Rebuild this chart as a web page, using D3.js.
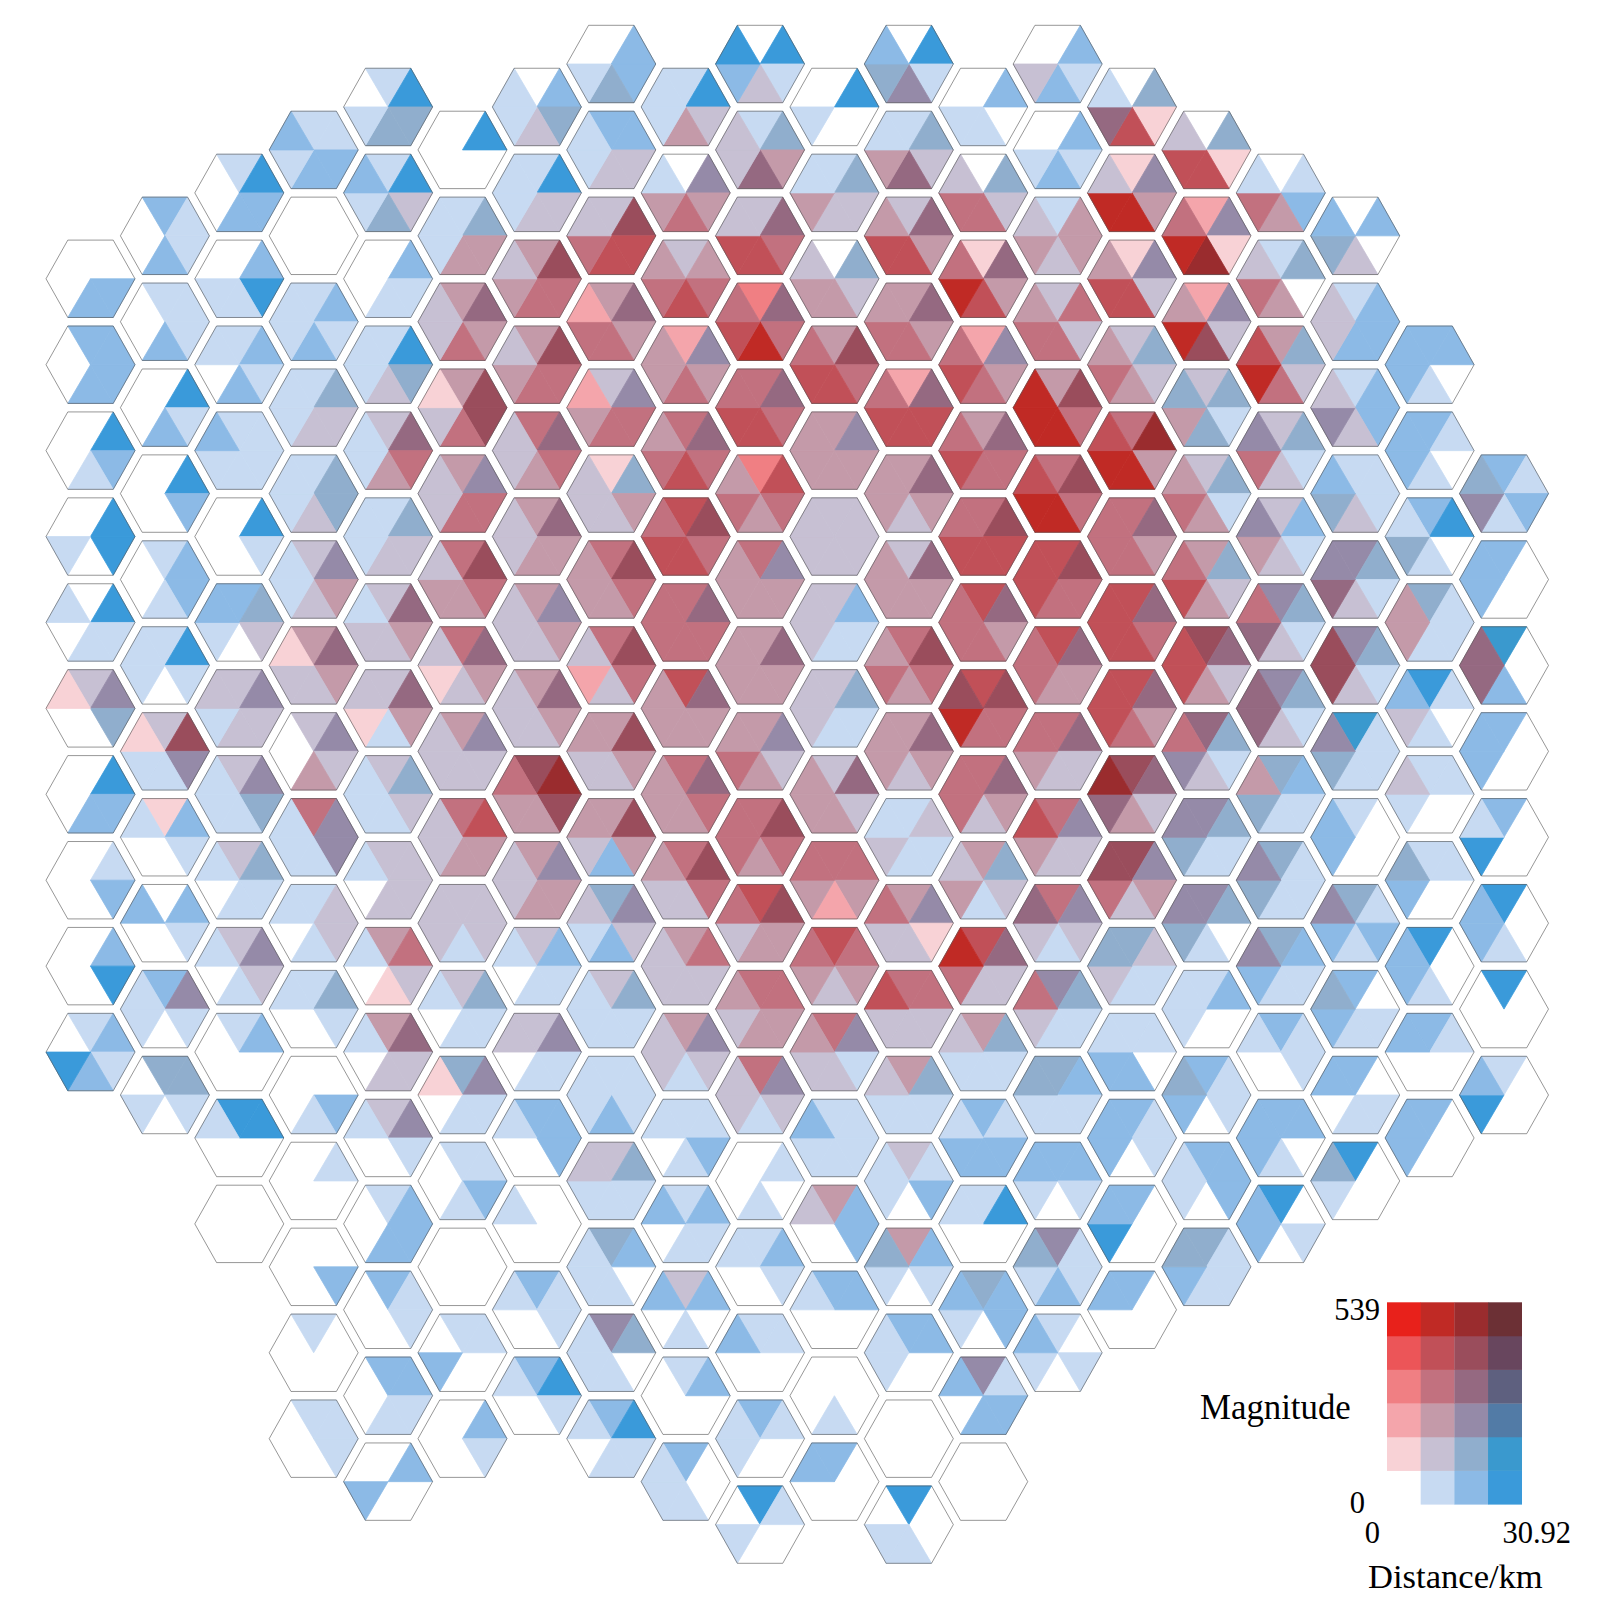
<!DOCTYPE html>
<html><head><meta charset="utf-8">
<script src="https://cdn.jsdelivr.net/npm/d3@7"></script>
<style>html,body{margin:0;padding:0;background:#fff}svg{display:block}text{font-family:"Liberation Serif",serif;fill:#000}</style>
</head><body><svg id="c" width="1600" height="1600"></svg>
<script>
// class codes: row = magnitude class 0-5, column = distance class 0-3
const classCodes = [".abc","pghi","qrst","uvwx","yzAB","CDEF"];
const magnitudeColours = [
 ["#ffffff","#c7daf2","#8cbae6","#3a9ada"],
 ["#f8d2d6","#c7c0d3","#90aecd","#3a99ce"],
 ["#f4a5ab","#c49aa9","#958aa8","#527ba6"],
 ["#f07f83","#c2717f","#956981","#5e607f"],
 ["#ec5558","#c15058","#9a4d5c","#68465e"],
 ["#e8211b","#c02a25","#9a2c2e","#6c3035"]];
// first half-row index of every column
const colStart = [5,4,3,2,1,2,1,0,1,0,1,0,1,0,1,2,3,4,7,10];
// each string: six triangles clockwise from the top: T,TR,BR,B,BL,TL
const col00 = ["..bb..","bbbb..",".cba..",".cc.a.",".caa.a","gsh..p",".cbb..",".ab...",".bc...","ababc."];
const col01 = ["baab..","aaab..",".cab..",".cb...","abba..","aca.aa","gAsaap","pba..a",".ba..b","bsa.aa","hha.a."];
const col02 = ["acbb..",".bcaa.","abab.a","aaaaab",".ca...","bhg.ab","gsggag","gshaaa","ghaa.a","gsga.a","ab....","cc...a","......"];
const col03 = ["aabbab","......","ababaa","ahggaa","ahhgaa","gsrgaa","rwrggp","gsgr..","vssaaa","agga.a","aha..a","..ba..",".a....","..b...","a.....","aaa..."];
const col04 = ["achha.","acghab",".baa..","achgaa","gwvraa","ahggaa","gwrgga","gwrapg","ghgaaa","gggg.a","rvgp.a","rwgg.a","gsa..a","abbb..","baa...","bbaa..",".b..b."];
const col05 = [".c....","ahrraa","rwrvgg","rAAvgp","rsvvgg","vAvrrg","vwrgpg","rsgggg","vzrrgg","gggagg","ghaa.a","hsaa.p","aaba..","......","aa..b.",".ba..."];
const col06 = [".bhgaa","acggaa","rAvvrg","rAvvrg","vwvrgg","rwrrgg","rsrggg","rwrggg","AEArrv","rsrrgg","gbaa.a","gsaa.g","bbb..a",".....a","baa..a","bca..a"];
const col07 = [".bbha.","bbggaa","gAzzvg","rwrvvq","gsvvrq","phrggg","vAvrrr","vAvgqg","rArggr","rArbgr","hsgbag","ghaaaa","aaabaa","ghaaag","hb.aaa","sh.aaa","bcaa.a"];
const col08 = ["acgraa",".srvra","grvzvr","qsrvrr","vwvzvr","zAvzzv","vwvvvv","zwrrrr","vwvrrr","vAvggr","rvgggg","rsgagg","aaba.a","abaa.b","gb.a.b","ab....","b..aaa"];
const col09 = [".cagbc","ahrwgg","gwvzzg","uwvDzv","vwvzzv","uzvrvr","vsrrrr","rwrrrr","rsgrvr","vAvrvv","zArrgv","vvrrgr","vsgagg",".a.a..","aba..a","aa...b","ba..aa","ca..a."];
const col10 = [".c..a.","ahggra",".hgrrg","rAvzzv","rsrrrr","gggggg","gbaagg","ghaagg","gwgrrr","vvrqrv","zvrgrv","vsaggr","aaaaab","rbb..g","bb...a","...a..","b....b"];
const col11 = [".cashb","ahgwra","gwrzzr","rwrvvr","qwzzzv","rwrgrr","gwrrrr","vAvrvr","rwrgrr","agaaga","rspggv","vvgggz","rhaaag","gab.aa","rba.ah","bb..aa","......","c..aa."];
const col12 = [".b.aa.",".hgvvg","pwrzDv","qsrvzv","rwvvzv","vAzzzv","zwrvvv","zAvvDA","vwrgvv","rhgarg","zwggvD","rhaaag","babbba","ac...a","hbb.ab","sabb.b","......"];
const col13 = [".babg.",".baba.","arrgrg","gvgvvr","rAvDDD","vAvDDz","zAvvzz","zwrrvv","vwggrv","vsggrz","vsgagw","shaagv","hbaaah","bba.ab","saabah","a.a.ab"];
const col14 = [".hpzwa","psrDDg","psgzzr","ghgrvr","vErDDz","vwrvvv","zwvzzz","zwrvzz","AwgrwE","AsrgvA","hgaagh","aa.bba","baa.bb","b...cb","b....b"];
const col15 = [".hpzzg","qspEDv","qsgADr","ghahrh","gharvr","rhgrzv","Awgrzz","whagsv","shaahs","sh.ahs","ab..aa","baa.bh","bbb.aa","haaabh"];
const col16 = [".abrva","ah.rvg","rhgvDz","ghagvs","gbagrs","shagwv","shagww","hbaahr","haaahs","hbaabs","baa..a","bb.abb","c.a.bb"];
const col17 = [".b.ghb","abbbgg","abbgsg","aaaghb","shagws","shagAA","iaaahs","a...bb","hababs","b.aabh","b.aa.b","c...ah"];
const col18 = ["bb.abb","ba.abb","bc.aha","haaarr","ca.agb","aa..ag","aa..bh","c..abb","ba...b","b...bb"];
const col19 = ["babash","b...bb","i..bww","b...bb","b...ca","c..abb","c.....","a...cb"];
const columns = [col00,col01,col02,col03,col04,col05,col06,col07,col08,col09,col10,col11,col12,col13,col14,col15,col16,col17,col18,col19];
const magnitudeTicks = ["0","539"], distanceTicks = ["0","30.92"];

const codeColour = new Map();
classCodes.forEach((row,m)=>[...row].forEach((ch,d)=>codeColour.set(ch,magnitudeColours[m][d])));

const svg = d3.select("#c");
const xCol = d3.scaleLinear().domain([0,19]).range([90.5,1504]);
const yRow = d3.scaleLinear().domain([0,34]).range([64,1524.6]);
const HW=44.5, QW=22.7, HH=38.7;
const corners = [[-QW,-HH],[QW,-HH],[HW,0],[QW,HH],[-QW,HH],[-HW,0]];
const cells = [];
columns.forEach((col,c)=>col.forEach((s,i)=>cells.push({c,j:colStart[c]+2*i,s})));
const line = d3.line();
const darkness = ch => { const c=d3.lab(codeColour.get(ch)); return -c.l; };

const hex = svg.append("g").selectAll("g").data(cells).join("g")
  .attr("transform",d=>`translate(${xCol(d.c)},${yRow(d.j)})`);
hex.selectAll("path.t")
  .data(d=>[...d.s].map((ch,k)=>({ch,k})).filter(t=>t.ch!=="."))
  .join("path")
  .attr("class","t")
  .attr("d",d=>line([[0,0],corners[d.k],corners[(d.k+1)%6]])+"Z")
  .attr("fill",d=>codeColour.get(d.ch))
  .attr("stroke",d=>codeColour.get(d.ch)).attr("stroke-width",0.8).attr("stroke-linejoin","round");
hex.append("path").attr("d",line(corners)+"Z").attr("fill","none").attr("stroke","#505050").attr("stroke-width",0.6);

// legend
const lx = d3.scaleBand().domain([0,1,2,3]).range([1387,1521.7]);
const ly = d3.scaleBand().domain([5,4,3,2,1,0]).range([1302.3,1504.3]);
const leg = svg.append("g");
magnitudeColours.forEach((row,m)=>row.forEach((col,d)=>{
  leg.append("rect").attr("x",lx(d)).attr("y",ly(m)).attr("width",lx.bandwidth()+0.3).attr("height",ly.bandwidth()+0.3).attr("fill",col);
}));
const T=(s,x,y,fs,a)=>svg.append("text").text(s).attr("x",x).attr("y",y).attr("font-size",fs).attr("text-anchor",a||"start");
T(magnitudeTicks[1],1380,1320,30.5,"end");
T(magnitudeTicks[0],1365,1513,30.5,"end");
T(distanceTicks[0],1380,1543,30.5,"end");
T(distanceTicks[1],1571,1543,30.5,"end");
T("Magnitude",1200,1419,34.8);
T("Distance/km",1368,1588,34.6);
</script></body></html>
